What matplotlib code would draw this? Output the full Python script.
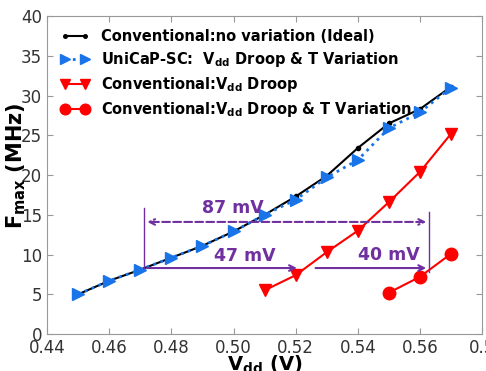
import matplotlib.pyplot as plt
import numpy as np

vdd_ideal = [0.45, 0.46, 0.47, 0.48, 0.49, 0.50, 0.51, 0.52, 0.53, 0.54, 0.55, 0.56, 0.57]
f_ideal = [5.0, 6.7, 8.1, 9.6, 11.1, 12.9, 15.0, 17.3, 19.9, 23.4, 26.5, 28.3, 31.1]
f_unicap = [5.0, 6.7, 8.1, 9.6, 11.1, 12.9, 15.0, 16.9, 19.7, 21.9, 25.9, 27.9, 31.0]
vdd_droop = [0.51, 0.52, 0.53, 0.54, 0.55, 0.56, 0.57]
f_droop = [5.5, 7.4, 10.3, 13.0, 16.6, 20.4, 25.2]
vdd_droop_t = [0.55, 0.56, 0.57]
f_droop_t = [5.2, 7.2, 10.1]

fig = plt.figure(figsize=(4.86, 3.71), dpi=100)
ax = fig.add_axes([0.097, 0.0997, 0.895, 0.857])

vd = r'$\mathbf{V_{dd}}$'
ax.plot(vdd_ideal, f_ideal, '.-', color='black', lw=1.5, ms=6,
        label='Conventional:no variation (Ideal)')
ax.plot(vdd_ideal, f_unicap, '>:', color='#1874E8', lw=2, ms=9,
        label='UniCaP-SC:  ' + vd + ' Droop & T Variation')
ax.plot(vdd_droop, f_droop, 'v-', color='red', lw=1.5, ms=9,
        label='Conventional:' + vd + ' Droop')
ax.plot(vdd_droop_t, f_droop_t, 'o-', color='red', lw=1.5, ms=9,
        label='Conventional:' + vd + ' Droop & T Variation')

purple = '#7030A0'
# voltage margin markers
ax.plot([0.4713, 0.4713], [8.3, 15.8], color=purple, lw=1)
ax.plot([0.5629, 0.5629], [7.8, 15.3], color=purple, lw=1)
ax.annotate('', xy=(0.4713, 14.1), xytext=(0.5629, 14.1),
            arrowprops=dict(arrowstyle='<->', color=purple, lw=1.5, ls='--'))
ax.annotate('', xy=(0.5213, 8.3), xytext=(0.4713, 8.3),
            arrowprops=dict(arrowstyle='->', color=purple, lw=1.5))
ax.annotate('', xy=(0.5629, 8.3), xytext=(0.5255, 8.3),
            arrowprops=dict(arrowstyle='->', color=purple, lw=1.5))
lbl = dict(color=purple, fontsize=12.5, fontweight='bold', ha='center', va='center')
ax.text(0.4997, 15.8, '87 mV', **lbl)
ax.text(0.5035, 9.8, '47 mV', **lbl)
ax.text(0.5500, 9.9, '40 mV', **lbl)

ax.set_xlim(0.44, 0.58)
ax.set_ylim(0, 40)
ax.set_xticks(np.arange(0.44, 0.581, 0.02))
ax.set_xticklabels(['0.44', '0.46', '0.48', '0.50', '0.52', '0.54', '0.56', '0.5'])
ax.set_yticks(range(0, 41, 5))
ax.tick_params(direction='in', top=True, right=True, labelsize=12,
               labelcolor='#333333', color='#999999', length=4)
for s in ax.spines.values():
    s.set_color('#999999')
ax.set_xlabel(r'$\mathbf{V_{dd}}$ (V)', fontsize=14, fontweight='bold', labelpad=-2)
ax.set_ylabel(r'$\mathbf{F_{max}}$ (MHz)', fontsize=15, fontweight='bold')
ax.yaxis.set_label_coords(-0.045, 0.53)

leg = ax.legend(loc='upper left', frameon=False, prop={'weight': 'bold', 'size': 10.5},
                handlelength=2.0, borderaxespad=0.5, labelspacing=0.4,
                handletextpad=0.8, numpoints=2, markerscale=0.85)

fig.savefig('out.png', dpi=100)
